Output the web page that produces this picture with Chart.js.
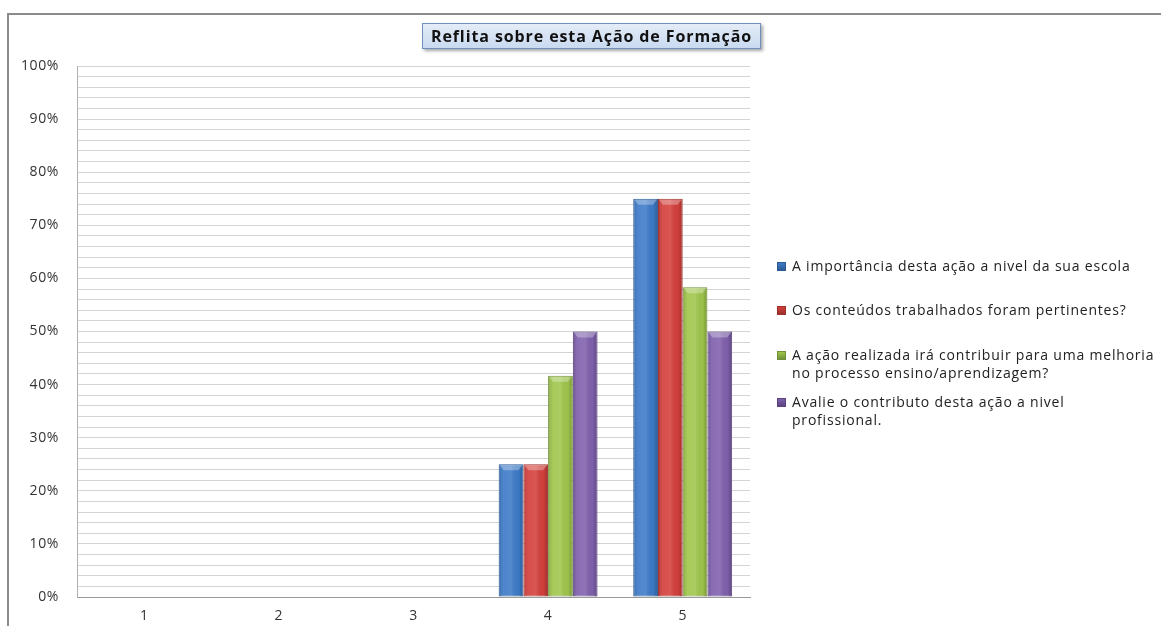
<!DOCTYPE html>
<html>
<head>
<meta charset="utf-8">
<script src="https://cdn.jsdelivr.net/npm/chart.js@4"></script>
<style>
  html, body { margin: 0; padding: 0; background: #fff; }
  #wrap { position: relative; width: 1161px; height: 626px; overflow: hidden; font-family: "Open Sans", sans-serif; }
  #frame { position: absolute; left: 7px; top: 13px; right: -4px; bottom: -4px; border-top: 2px solid #8c8c8c; border-left: 2px solid #8c8c8c; }
  #c { position: absolute; left: 0; top: 0; }
  #title { position: absolute; left: 422px; top: 23px; width: 339px; height: 26px; box-sizing: border-box;
    border: 1px solid #6f8fbf; background: linear-gradient(#e4ecf7, #c9daf0);
    box-shadow: 2px 2px 3px rgba(0,0,0,0.35);
    font: bold 16px "Open Sans", sans-serif; letter-spacing: 0.9px; color: #111; text-align: center; line-height: 24px; white-space: nowrap; }
  #legend { position: absolute; left: 776px; top: 257px; width: 385px; font: 14px "Open Sans", sans-serif; letter-spacing: 0.8px; color: #222; }
  .li { position: relative; padding-left: 16px; line-height: 18px; white-space: pre; }
  .li .sw { position: absolute; left: 1px; top: 5px; width: 9px; height: 9px; box-sizing: border-box; }
  .li:nth-child(1) { margin-bottom: 26px; }
  .li:nth-child(2) { margin-bottom: 27px; }
  .li:nth-child(3) { margin-bottom: 11px; }
</style>
</head>
<body>
<div id="wrap">
  <div id="frame"></div>
  <canvas id="c" width="1161" height="626"></canvas>
  <div id="title"></div>
  <div id="legend"></div>
</div>
<script>
const chartTitle = 'Reflita sobre esta Ação de Formação';
const categories = ['1', '2', '3', '4', '5'];
const seriesNames = [
  'A importância desta ação a nivel da sua escola',
  'Os conteúdos trabalhados foram pertinentes?',
  'A ação realizada irá contribuir para uma melhoria\nno processo ensino/aprendizagem?',
  'Avalie o contributo desta ação a nivel\nprofissional.'
];
const importanciaEscola = [0, 0, 0, 25, 75];
const conteudosPertinentes = [0, 0, 0, 25, 75];
const melhoriaEnsino = [0, 0, 0, 41.67, 58.33];
const contributoProfissional = [0, 0, 0, 50, 50];
const seriesColors = ['#3d7bc8', '#d4403c', '#a0c64c', '#8060ad'];
const seriesBorders = ['#2c5a94', '#9c2f2c', '#71913a', '#5b4380'];

document.getElementById('title').textContent = chartTitle;

const legend = document.getElementById('legend');
seriesNames.forEach((name, i) => {
  const d = document.createElement('div');
  d.className = 'li';
  const sw = document.createElement('span');
  sw.className = 'sw';
  sw.style.background = 'linear-gradient(' + seriesColors[i] + ', ' + seriesBorders[i] + ')';
  sw.style.border = '1px solid ' + seriesBorders[i];
  d.appendChild(sw);
  d.appendChild(document.createTextNode(name));
  legend.appendChild(d);
});

const spacing = {
  id: 'spacing',
  beforeInit(chart) { chart.ctx.letterSpacing = '0.6px'; },
  beforeDraw(chart) { chart.ctx.letterSpacing = '0.6px'; }
};

const bevel = {
  id: 'bevel',
  afterDatasetsDraw(chart) {
    const ctx = chart.ctx;
    chart.data.datasets.forEach((ds, di) => {
      const meta = chart.getDatasetMeta(di);
      meta.data.forEach(bar => {
        const h = bar.base - bar.y;
        if (h <= 1) return;
        const l = bar.x - bar.width / 2, r = bar.x + bar.width / 2;
        const g = ctx.createLinearGradient(l, 0, r, 0);
        g.addColorStop(0, 'rgba(0,0,0,0.18)');
        g.addColorStop(0.2, 'rgba(255,255,255,0.08)');
        g.addColorStop(0.5, 'rgba(255,255,255,0.12)');
        g.addColorStop(0.8, 'rgba(0,0,0,0.02)');
        g.addColorStop(1, 'rgba(0,0,0,0.25)');
        ctx.save();
        ctx.fillStyle = g;
        ctx.fillRect(l + 1, bar.y + 1, bar.width - 2, h - 1);
        ctx.fillStyle = 'rgba(255,255,255,0.3)';
        ctx.beginPath();
        ctx.moveTo(l + 1, bar.y + 1);
        ctx.lineTo(r - 1, bar.y + 1);
        ctx.lineTo(r - 5, bar.y + 6);
        ctx.lineTo(l + 5, bar.y + 6);
        ctx.closePath();
        ctx.fill();
        ctx.restore();
      });
    });
  }
};

const seriesData = [importanciaEscola, conteudosPertinentes, melhoriaEnsino, contributoProfissional];

new Chart(document.getElementById('c'), {
  type: 'bar',
  data: {
    labels: categories,
    datasets: seriesData.map((vals, i) => ({
      label: seriesNames[i],
      data: vals,
      backgroundColor: seriesColors[i],
      borderColor: seriesBorders[i],
      borderWidth: 1,
      borderSkipped: false,
      categoryPercentage: 0.735,
      barPercentage: 1
    }))
  },
  options: {
    responsive: false,
    animation: false,
    devicePixelRatio: 1,
    layout: { padding: { left: 10, right: 411, top: 66, bottom: 0 } },
    plugins: { legend: { display: false }, tooltip: { enabled: false }, title: { display: false } },
    scales: {
      x: {
        grid: { display: false, drawTicks: false },
        border: { color: '#9a9a9a', width: 1 },
        ticks: { color: '#333', font: { family: 'Open Sans', size: 14 }, padding: 11 },
        afterFit(s) { s.height = 29; }
      },
      y: {
        min: 0, max: 100,
        grid: { color: '#d4d4d4', lineWidth: 1, drawTicks: false },
        border: { color: '#b0b0b0', width: 1 },
        ticks: {
          stepSize: 2, autoSkip: false, color: '#333', padding: 18,
          font: { family: 'Open Sans', size: 14 },
          callback: v => (Math.round(v) % 10 === 0 ? Math.round(v) + '%' : '')
        },
        afterFit(s) { s.width = 67; }
      }
    }
  },
  plugins: [spacing, bevel]
});
</script>
</body>
</html>
